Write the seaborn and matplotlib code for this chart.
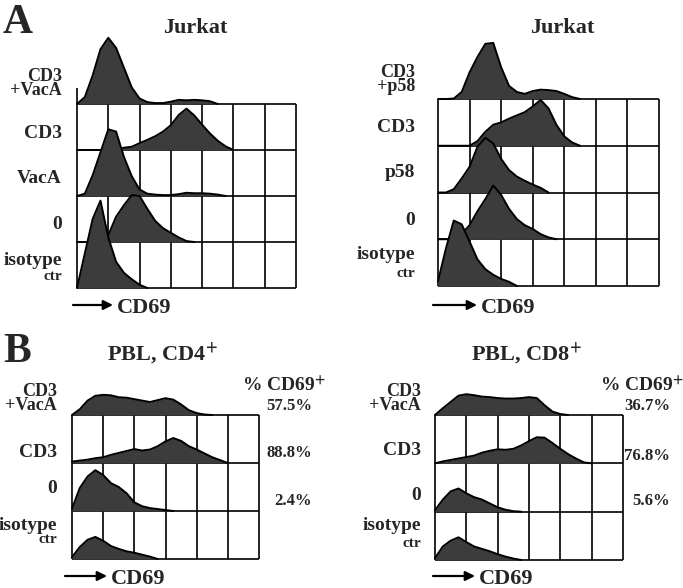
import numpy as np
import seaborn as sns
import matplotlib.pyplot as plt

# CD69 histograms: height in row units, one value every 1/4 grid column,
# rows listed top to bottom
a_jurkat_vaca_labels = ['CD3\n+VacA', 'CD3', 'VacA', '0', 'isotype\nctr']
a_cd3_vaca = [0, 0.15, 0.62, 1.19, 1.44, 1.22, 0.79, 0.36, 0.12, 0.04, 0.02, 0.02,
              0.05, 0.09, 0.08, 0.09, 0.08, 0.06, 0]
a_cd3 = [0, 0, 0, 0, 0, 0, 0.05, 0.07, 0.15, 0.22, 0.3, 0.4, 0.54, 0.76, 0.9, 0.75,
         0.55, 0.36, 0.2, 0.08, 0]
a_vaca = [0, 0.05, 0.45, 0.95, 1.45, 1.4, 0.85, 0.43, 0.14, 0.05, 0.03, 0.02, 0.02,
          0.04, 0.07, 0.06, 0.06, 0.05, 0.03, 0]
a_zero = [0, 0, 0, 0, 0.15, 0.55, 0.8, 1.02, 1.0, 0.72, 0.46, 0.3, 0.2, 0.1, 0.02, 0]
a_iso = [0, 0.75, 1.5, 1.9, 1.1, 0.57, 0.33, 0.19, 0.07, 0]

a_jurkat_p58_labels = ['CD3\n+p58', 'CD3', 'p58', '0', 'isotype\nctr']
a2_cd3_p58 = [0, 0, 0.01, 0.15, 0.57, 0.9, 1.18, 1.2, 0.68, 0.28, 0.15, 0.11, 0.17,
              0.2, 0.19, 0.17, 0.11, 0.04, 0]
a2_cd3 = [0, 0, 0, 0, 0, 0.1, 0.3, 0.45, 0.5, 0.58, 0.65, 0.72, 0.84, 0.98, 0.8, 0.45,
          0.2, 0.07, 0]
a2_p58 = [0, 0, 0.07, 0.3, 0.55, 0.98, 1.17, 1.05, 0.72, 0.48, 0.34, 0.25, 0.17, 0.1, 0]
a2_zero = [0, 0, 0, 0.12, 0.3, 0.6, 0.86, 1.15, 0.95, 0.65, 0.43, 0.3, 0.22, 0.11, 0.04, 0]
a2_iso = [0.1, 0.8, 1.4, 1.32, 0.95, 0.57, 0.36, 0.24, 0.15, 0.09, 0]

b_labels = ['CD3\n+VacA', 'CD3', '0', 'isotype\nctr']
b_cd4_cd3_vaca = [0, 0.12, 0.3, 0.4, 0.42, 0.41, 0.37, 0.36, 0.33, 0.3, 0.27, 0.31,
                  0.35, 0.32, 0.22, 0.1, 0.04, 0.01, 0]
b_cd4_cd3 = [0.03, 0.05, 0.07, 0.1, 0.12, 0.17, 0.21, 0.25, 0.29, 0.26, 0.28, 0.35,
             0.45, 0.52, 0.46, 0.35, 0.28, 0.2, 0.12, 0.06, 0]
b_cd4_zero = [0.05, 0.48, 0.72, 0.85, 0.75, 0.58, 0.5, 0.37, 0.18, 0.1, 0.06, 0.04, 0.02, 0]
b_cd4_iso = [0.04, 0.25, 0.4, 0.46, 0.38, 0.27, 0.21, 0.16, 0.13, 0.09, 0.05, 0]
b_cd4_pct = ['57.5%', '88.8%', '2.4%']

b_cd8_cd3_vaca = [0, 0.14, 0.27, 0.4, 0.43, 0.41, 0.38, 0.37, 0.35, 0.34, 0.34, 0.35,
                  0.37, 0.35, 0.2, 0.07, 0.02, 0]
b_cd8_cd3 = [0, 0.04, 0.07, 0.1, 0.13, 0.16, 0.22, 0.26, 0.29, 0.28, 0.3, 0.37, 0.46,
             0.54, 0.53, 0.42, 0.3, 0.19, 0.1, 0.02, 0]
b_cd8_zero = [0.03, 0.25, 0.42, 0.48, 0.38, 0.3, 0.25, 0.17, 0.09, 0.04, 0.01, 0]
b_cd8_iso = [0.04, 0.28, 0.4, 0.47, 0.37, 0.28, 0.23, 0.18, 0.12, 0.07, 0.03, 0]
b_cd8_pct = ['36.7%', '76.8%', '5.6%']

sns.set_style('white')
plt.rcParams['font.family'] = ['Liberation Serif', 'DejaVu Serif']
plt.rcParams['font.weight'] = 'bold'
plt.rcParams['mathtext.fontset'] = 'stix'

W, H = 683, 588
FILL = '#3c3c3c'
fig = plt.figure(figsize=(W / 100, H / 100), dpi=100)


def fx(x):
    return x / W


def fy(y):
    return 1 - y / H


def txt(x, y, s, size=14, ha='right', va='baseline', **kw):
    fig.text(fx(x), fy(y), s, fontsize=size, ha=ha, va=va,
             fontweight='bold', **kw)


def panel(x0, x1, ybot, ybox, ytop, ncols, hists):
    nbox = len(hists) - 1
    row = (ybot - ybox) / nbox
    ax = fig.add_axes([fx(x0), fy(ybot), (x1 - x0) / W, (ybot - ytop) / H])
    ax.set_xlim(0, ncols)
    ax.set_ylim(0, (ybot - ytop) / row)
    ax.axis('off')
    ax.vlines(range(ncols + 1), 0, nbox, color='black', lw=1.2, zorder=1, clip_on=False)
    ax.hlines(range(nbox + 1), 0, ncols, color='black', lw=1.2, zorder=1, clip_on=False)
    for i, h in enumerate(hists):
        base = nbox - i
        xs = np.arange(len(h)) * 0.25
        ys = base + np.asarray(h)
        ax.fill_between(xs, base, ys, color=FILL, lw=0, zorder=2 + 2 * i, clip_on=False)
        sns.lineplot(x=xs, y=ys, ax=ax, color='black', lw=1.4, sort=False,
                     estimator=None, zorder=3 + 2 * i, clip_on=False)
    return ax


ax_a1 = panel(77, 296, 288, 104, 30, 7, [a_cd3_vaca, a_cd3, a_vaca, a_zero, a_iso])
ax_a1.vlines(0, 4, 4.35, color='black', lw=1.2, clip_on=False)
panel(438, 659, 286, 99, 30, 7, [a2_cd3_p58, a2_cd3, a2_p58, a2_zero, a2_iso])
panel(72, 259, 559, 415, 380, 6, [b_cd4_cd3_vaca, b_cd4_cd3, b_cd4_zero, b_cd4_iso])
panel(435, 623, 560, 415, 380, 6, [b_cd8_cd3_vaca, b_cd8_cd3, b_cd8_zero, b_cd8_iso])

# panel letters and titles
txt(3, 33, 'A', size=30, ha='left')
txt(3, 362, 'B', size=30, ha='left')
txt(195, 33, 'Jurkat', size=16, ha='center')
txt(562, 33, 'Jurkat', size=16, ha='center')
txt(162, 360, r'PBL, CD4$^{\mathbf{+}}$', size=16, ha='center')
txt(526, 360, r'PBL, CD8$^{\mathbf{+}}$', size=16, ha='center')


def row_labels(xr, labels, baselines, ctr_y):
    for lab, yb in zip(labels, baselines):
        parts = lab.split('\n')
        if parts[0] == 'isotype':
            txt(xr, yb, 'isotype', size=14)
            txt(xr, ctr_y, 'ctr', size=11)
        elif len(parts) == 2:
            # two stacked lines, packed tight; yb is the bottom of the block
            txt(xr, yb, lab, size=13, va='bottom', linespacing=0.78,
                multialignment='right')
        else:
            txt(xr, yb, lab, size=14)


row_labels(62, a_jurkat_vaca_labels, [99, 138, 183, 229, 265], 280)
row_labels(415, a_jurkat_p58_labels, [95, 132, 177, 225, 259], 277)
row_labels(57, b_labels, [414, 457, 493, 530], 543)
row_labels(421, b_labels, [414, 455, 500, 530], 547)

# percentage of CD69+ cells
txt(242, 392, r'% CD69$^{\mathbf{+}}$', size=14, ha='left')
txt(600, 392, r'% CD69$^{\mathbf{+}}$', size=14, ha='left')
for s, yb in zip(b_cd4_pct, [410, 457, 505]):
    txt(312, yb, s, size=12)
for s, yb in zip(b_cd8_pct, [410, 460, 505]):
    txt(670, yb, s, size=12)

# CD69 axis arrows
for xa, xb, yc in [(73, 113, 305), (433, 477, 305), (65, 107, 576), (433, 475, 576)]:
    ax_a1.annotate('', xy=(fx(xb), fy(yc)), xytext=(fx(xa), fy(yc)),
                   xycoords='figure fraction', textcoords='figure fraction',
                   annotation_clip=False,
                   arrowprops=dict(arrowstyle='-|>', color='black', lw=1.6,
                                   mutation_scale=14, shrinkA=0, shrinkB=0))
    txt(xb + 4, yc + 8, 'CD69', size=16, ha='left')

fig.savefig('out.png', dpi=100)
